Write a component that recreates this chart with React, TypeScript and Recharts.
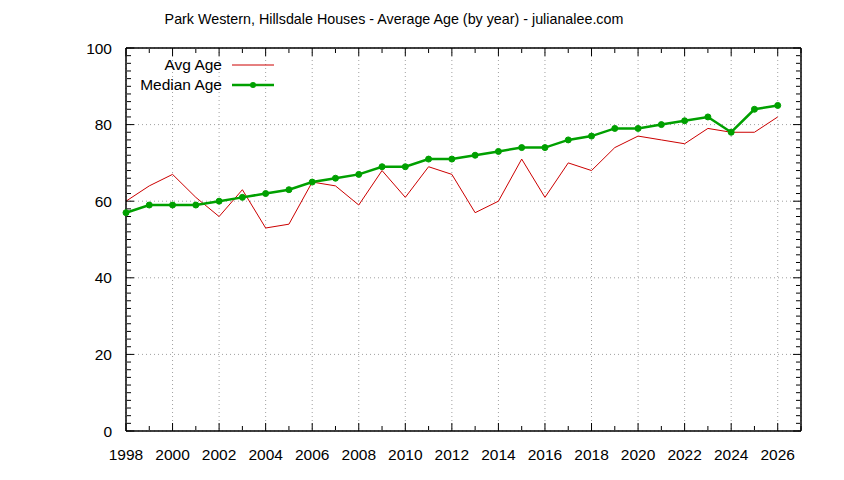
import { LineChart, Line, XAxis, YAxis, CartesianGrid } from 'recharts';

const years = [
  1998, 1999, 2000, 2001, 2002, 2003, 2004, 2005, 2006, 2007, 2008, 2009, 2010, 2011, 2012,
  2013, 2014, 2015, 2016, 2017, 2018, 2019, 2020, 2021, 2022, 2023, 2024, 2025, 2026,
];
const avgAge = [
  60, 64, 67, 61, 56, 63, 53, 54, 65, 64, 59, 68, 61, 69, 67,
  57, 60, 71, 61, 70, 68, 74, 77, 76, 75, 79, 78, 78, 82,
];
const medianAge = [
  57, 59, 59, 59, 60, 61, 62, 63, 65, 66, 67, 69, 69, 71, 71,
  72, 73, 74, 74, 76, 77, 79, 79, 80, 81, 82, 78, 84, 85,
];

const xMajorTicks = [1998, 2000, 2002, 2004, 2006, 2008, 2010, 2012, 2014, 2016, 2018, 2020, 2022, 2024, 2026];
const xMinorTicks = [
  1999, 2001, 2003, 2005, 2007, 2009, 2011, 2013, 2015, 2017, 2019, 2021, 2023, 2025, 2027,
];
const yMajorTicks = [0, 20, 40, 60, 80, 100];
const yMinorTicks = [
  2, 4, 6, 8, 10, 12, 14, 16, 18, 22, 24, 26, 28, 30, 32, 34, 36, 38, 42, 44, 46, 48, 50,
  52, 54, 56, 58, 62, 64, 66, 68, 70, 72, 74, 76, 78, 82, 84, 86, 88, 90, 92, 94, 96, 98,
];

const data = years.map((year, i) => ({ year, avg: avgAge[i], median: medianAge[i] }));

const FONT = '"Liberation Sans", Arial, sans-serif';
const RED = '#cc0000';
const GREEN = '#00a000';
const X_DOMAIN = [1998, 2027];
const Y_DOMAIN = [0, 100];

const blank = () => '';

// invisible series so the frame axes get a scale of their own
const Ghost = ({ x, y }: { x: string; y: string }) => (
  <Line
    xAxisId={x}
    yAxisId={y}
    dataKey="median"
    stroke="none"
    dot={false}
    activeDot={false}
    legendType="none"
    isAnimationActive={false}
  />
);

export default function App() {
  return (
    <div style={{ position: 'absolute', left: 0, top: 0, width: 844, height: 480, background: '#fff' }}>
      <LineChart
        width={844}
        height={480}
        data={data}
        margin={{ top: 48, right: 43, bottom: 19, left: 0 }}
      >
        <CartesianGrid stroke="#a0a0a0" strokeDasharray="1 3" />
        <XAxis
          dataKey="year"
          type="number"
          domain={X_DOMAIN}
          ticks={xMajorTicks}
          interval={0}
          height={30}
          axisLine={false}
          tickLine={false}
          tickMargin={12}
          tick={{ fill: '#000', fontSize: 15.5, fontFamily: FONT }}
        />
        <YAxis
          type="number"
          domain={Y_DOMAIN}
          ticks={yMajorTicks}
          interval={0}
          width={126}
          axisLine={false}
          tickLine={false}
          tickMargin={8}
          tick={{ fill: '#000', fontSize: 15.5, fontFamily: FONT }}
        />
        {/* frame and inward ticks on all four sides */}
        <XAxis xAxisId="bMaj" dataKey="year" orientation="bottom" mirror height={1} type="number" domain={X_DOMAIN} ticks={xMajorTicks} interval={0}
          tickSize={8} stroke="#000" axisLine={{ stroke: '#000', strokeWidth: 1.5 }} tickFormatter={blank} />
        <XAxis xAxisId="bMin" dataKey="year" orientation="bottom" mirror height={1} type="number" domain={X_DOMAIN} ticks={xMinorTicks} interval={0}
          tickSize={4} stroke="#000" axisLine={false} tickFormatter={blank} />
        <XAxis xAxisId="tMaj" dataKey="year" orientation="top" mirror height={1} type="number" domain={X_DOMAIN} ticks={xMajorTicks} interval={0}
          tickSize={8} stroke="#000" axisLine={{ stroke: '#000', strokeWidth: 1.5 }} tickFormatter={blank} />
        <XAxis xAxisId="tMin" dataKey="year" orientation="top" mirror height={1} type="number" domain={X_DOMAIN} ticks={xMinorTicks} interval={0}
          tickSize={4} stroke="#000" axisLine={false} tickFormatter={blank} />
        <YAxis yAxisId="lMaj" orientation="left" mirror width={1} type="number" domain={Y_DOMAIN} ticks={yMajorTicks} interval={0}
          tickSize={8} stroke="#000" axisLine={{ stroke: '#000', strokeWidth: 1.5 }} tickFormatter={blank} />
        <YAxis yAxisId="lMin" orientation="left" mirror width={1} type="number" domain={Y_DOMAIN} ticks={yMinorTicks} interval={0}
          tickSize={4} stroke="#000" axisLine={false} tickFormatter={blank} />
        <YAxis yAxisId="rMaj" orientation="right" mirror width={1} type="number" domain={Y_DOMAIN} ticks={yMajorTicks} interval={0}
          tickSize={8} stroke="#000" axisLine={{ stroke: '#000', strokeWidth: 1.5 }} tickFormatter={blank} />
        <YAxis yAxisId="rMin" orientation="right" mirror width={1} type="number" domain={Y_DOMAIN} ticks={yMinorTicks} interval={0}
          tickSize={4} stroke="#000" axisLine={false} tickFormatter={blank} />
        {Ghost({ x: 'bMaj', y: 'lMaj' })}
        {Ghost({ x: 'bMin', y: 'lMin' })}
        {Ghost({ x: 'tMaj', y: 'rMaj' })}
        {Ghost({ x: 'tMin', y: 'rMin' })}
        <Line
          dataKey="avg"
          stroke={RED}
          strokeWidth={1}
          dot={false}
          isAnimationActive={false}
        />
        <Line
          dataKey="median"
          stroke={GREEN}
          strokeWidth={2.5}
          dot={{ r: 3, fill: GREEN, stroke: GREEN, strokeWidth: 1 }}
          isAnimationActive={false}
        />
      </LineChart>
      <svg
        width={844}
        height={480}
        style={{ position: 'absolute', left: 0, top: 0, pointerEvents: 'none' }}
        fontFamily={FONT}
      >
        <text x={394} y={24} fontSize={14.3} textAnchor="middle" fill="#000">
          Park Western, Hillsdale Houses - Average Age (by year) - julianalee.com
        </text>
        <text x={222} y={70} fontSize={15.5} textAnchor="end" fill="#000">Avg Age</text>
        <line x1={232} y1={65} x2={274} y2={65} stroke={RED} strokeWidth={1} />
        <text x={222} y={90} fontSize={15.5} textAnchor="end" fill="#000">Median Age</text>
        <line x1={232} y1={85} x2={274} y2={85} stroke={GREEN} strokeWidth={2.5} />
        <circle cx={253} cy={85} r={3} fill={GREEN} />
      </svg>
    </div>
  );
}
